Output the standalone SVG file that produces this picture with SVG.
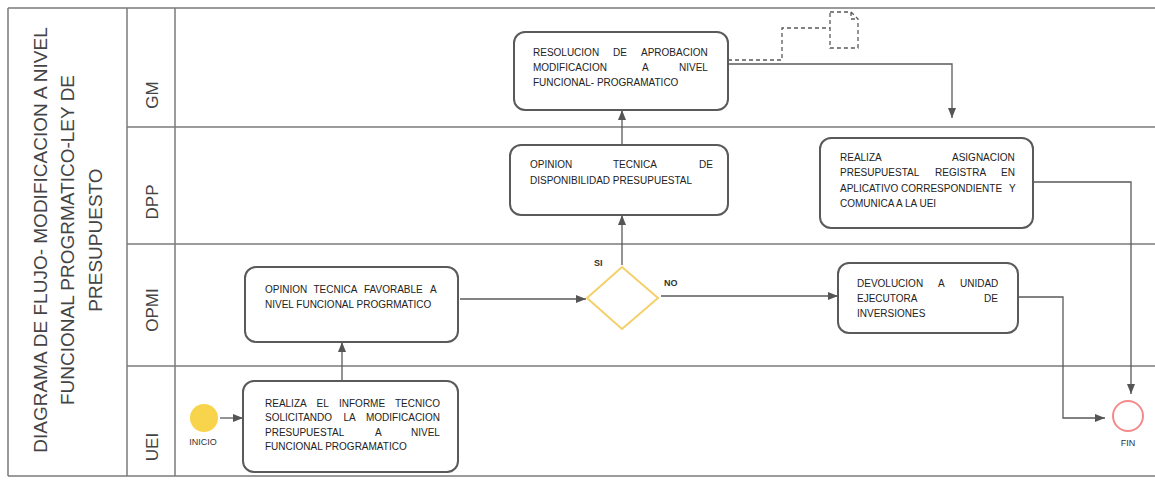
<svg xmlns="http://www.w3.org/2000/svg" width="1155" height="482" viewBox="0 0 1155 482">
<style>
.frame{stroke:#7a7a7a;stroke-width:1.5;fill:none}
.box{fill:#fff;stroke:#5a5a5a;stroke-width:2}
.t{font-family:"Liberation Sans",Arial,sans-serif;font-size:10px;fill:#222}
.title{font-family:"Liberation Sans",Arial,sans-serif;font-size:19px;fill:#444}
.lab{font-family:"Liberation Sans",Arial,sans-serif;font-size:17px;fill:#444}
.small{font-family:"Liberation Sans",Arial,sans-serif;font-size:9px;fill:#333;font-weight:bold}
.conn{stroke:#5a5a5a;stroke-width:1.3;fill:none}
.dash{stroke:#5a5a5a;stroke-width:1.3;fill:none;stroke-dasharray:4 3}
</style>
<defs>
<marker id="arr" markerUnits="userSpaceOnUse" markerWidth="10" markerHeight="8" refX="10" refY="4" orient="auto">
<path d="M0,0 L10,4 L0,8 z" fill="#555"/>
</marker>
</defs>
<rect width="1155" height="482" fill="#fff"/>
<g id="frame">
<line class="frame" x1="8" y1="8" x2="1155" y2="8"/>
<line class="frame" x1="8" y1="476" x2="1155" y2="476"/>
<line class="frame" x1="8" y1="8" x2="8" y2="476"/>
<line class="frame" x1="127" y1="8" x2="127" y2="476"/>
<line class="frame" x1="175" y1="8" x2="175" y2="476"/>
<line class="frame" x1="127" y1="127" x2="1155" y2="127"/>
<line class="frame" x1="127" y1="244" x2="1155" y2="244"/>
<line class="frame" x1="127" y1="366" x2="1155" y2="366"/>
</g>
<g id="title">
<text class="title" text-anchor="middle" transform="translate(47,240) rotate(-90)">DIAGRAMA DE FLUJO- MODIFICACION A NIVEL</text>
<text class="title" text-anchor="middle" transform="translate(74,240) rotate(-90)">FUNCIONAL PROGRMATICO-LEY DE</text>
<text class="title" text-anchor="middle" transform="translate(102,240) rotate(-90)">PRESUPUESTO</text>
</g>
<g id="lanes">
<text class="lab" text-anchor="middle" transform="translate(158,95) rotate(-90)">GM</text>
<text class="lab" text-anchor="middle" transform="translate(158,202) rotate(-90)">DPP</text>
<text class="lab" text-anchor="middle" transform="translate(158,310) rotate(-90)">OPMI</text>
<text class="lab" text-anchor="middle" transform="translate(158,447) rotate(-90)">UEI</text>
</g>
<g id="connectors">
<line class="conn" x1="220" y1="418" x2="243" y2="418" marker-end="url(#arr)"/>
<line class="conn" x1="342" y1="381" x2="342" y2="342" marker-end="url(#arr)"/>
<line class="conn" x1="460" y1="299" x2="586" y2="299" marker-end="url(#arr)"/>
<line class="conn" x1="622" y1="265" x2="622" y2="215" marker-end="url(#arr)"/>
<line class="conn" x1="661" y1="296" x2="838" y2="296" marker-end="url(#arr)"/>
<line class="conn" x1="622" y1="145" x2="622" y2="110" marker-end="url(#arr)"/>
<polyline class="conn" points="728,64 952,64 952,118" marker-end="url(#arr)"/>
<polyline class="dash" points="728,60 782,60 782,28 830,28"/>
<polyline class="conn" points="1033,182 1131,182 1131,394" marker-end="url(#arr)"/>
<polyline class="conn" points="1018,297 1063,297 1063,418 1105,418" marker-end="url(#arr)"/>
<text class="small" x="594" y="266">SI</text>
<text class="small" x="664" y="286">NO</text>
</g>
<g id="doc">
<path class="dash" d="M830,12 L851,12 L858,19 L858,48 L830,48 Z M851,12 L851,19 L858,19"/>
</g>
<g id="inicio">
<circle cx="204" cy="418" r="14" fill="#F8D44C"/>
<text class="small" x="203" y="445" text-anchor="middle" style="font-weight:normal;font-size:9px">INICIO</text>
</g>
<g id="fin">
<circle cx="1128" cy="416" r="15" fill="#fff" stroke="#F28C8C" stroke-width="2"/>
<text class="small" x="1128" y="446" text-anchor="middle" style="font-weight:normal">FIN</text>
</g>
<g id="resolucion">
<rect class="box" x="514" y="32" width="214" height="78" rx="11"/>
<text class="t" y="55.5"><tspan x="533">RESOLUCION</tspan><tspan x="613">DE</tspan><tspan x="641">APROBACION</tspan></text>
<text class="t" y="70.5"><tspan x="533">MODIFICACION</tspan><tspan x="642">A</tspan><tspan x="679">NIVEL</tspan></text>
<text class="t" x="533" y="85.5">FUNCIONAL- PROGRAMATICO</text>
</g>
<g id="opinion-dpp">
<rect class="box" x="510" y="145" width="218" height="70" rx="11"/>
<text class="t" y="167.5"><tspan x="530">OPINION</tspan><tspan x="613">TECNICA</tspan><tspan x="699">DE</tspan></text>
<text class="t" x="530" y="183.5">DISPONIBILIDAD PRESUPUESTAL</text>
</g>
<g id="asignacion">
<rect class="box" x="820" y="138" width="213" height="90" rx="11"/>
<text class="t" y="160.5"><tspan x="840">REALIZA</tspan><tspan x="952">ASIGNACION</tspan></text>
<text class="t" y="176"><tspan x="840">PRESUPUESTAL</tspan><tspan x="935">REGISTRA</tspan><tspan x="1001">EN</tspan></text>
<text class="t" y="191.5"><tspan x="840">APLICATIVO</tspan><tspan x="901">CORRESPONDIENTE</tspan><tspan x="1009">Y</tspan></text>
<text class="t" x="840" y="207">COMUNICA A LA UEI</text>
</g>
<g id="opinion-opmi">
<rect class="box" x="245" y="267" width="213" height="75" rx="11"/>
<text class="t" y="292.5"><tspan x="265">OPINION</tspan><tspan x="313.5">TECNICA</tspan><tspan x="364">FAVORABLE</tspan><tspan x="430">A</tspan></text>
<text class="t" x="265" y="307.5">NIVEL FUNCIONAL PROGRMATICO</text>
</g>
<g id="decision">
<polygon points="622,267 658,298 622,329 587,298" fill="#fff" stroke="#F5D06A" stroke-width="2"/>
</g>
<g id="devolucion">
<rect class="box" x="838" y="263" width="180" height="70" rx="11"/>
<text class="t" y="286.5"><tspan x="857">DEVOLUCION</tspan><tspan x="938">A</tspan><tspan x="960">UNIDAD</tspan></text>
<text class="t" y="301.5"><tspan x="857">EJECUTORA</tspan><tspan x="984">DE</tspan></text>
<text class="t" x="857" y="316.5">INVERSIONES</text>
</g>
<g id="informe">
<rect class="box" x="243" y="381" width="215" height="91" rx="11"/>
<text class="t" y="406.5"><tspan x="265">REALIZA</tspan><tspan x="316.5">EL</tspan><tspan x="339">INFORME</tspan><tspan x="395">TECNICO</tspan></text>
<text class="t" y="421"><tspan x="265">SOLICITANDO</tspan><tspan x="343.5">LA</tspan><tspan x="366">MODIFICACION</tspan></text>
<text class="t" y="435.5"><tspan x="265">PRESUPUESTAL</tspan><tspan x="375">A</tspan><tspan x="411">NIVEL</tspan></text>
<text class="t" x="265" y="450">FUNCIONAL PROGRAMATICO</text>
</g>
</svg>
